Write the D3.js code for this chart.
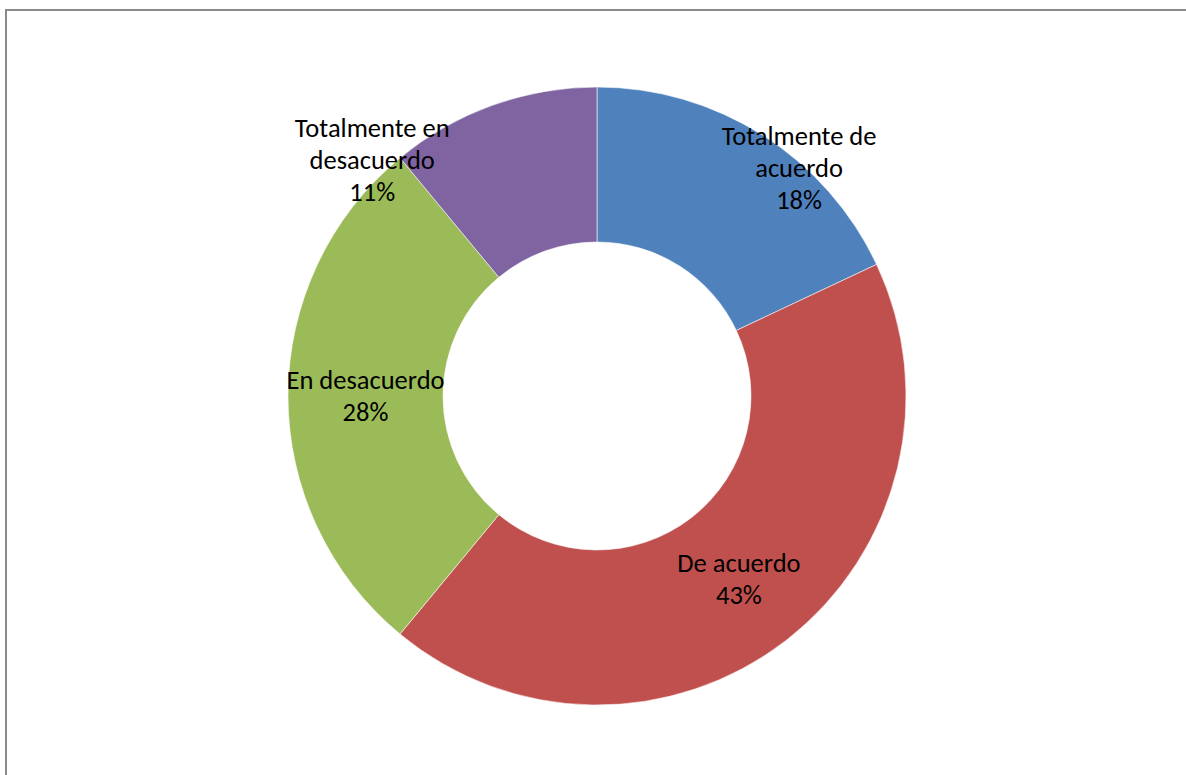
<!DOCTYPE html>
<html>
<head>
<meta charset="utf-8">
<script src="https://cdn.jsdelivr.net/npm/d3@7"></script>
<style>
  html, body { margin: 0; padding: 0; background: #fff; }
  svg { display: block; }
</style>
</head>
<body>
<svg id="chart" width="1186" height="775"></svg>
<script>
// Survey responses (share of answers, %)
const categories = ["Totalmente de acuerdo", "De acuerdo", "En desacuerdo", "Totalmente en desacuerdo"];
const values = [18, 43, 28, 11];
const labelLines = [
  ["Totalmente de", "acuerdo", "18%"],
  ["De acuerdo", "43%"],
  ["En desacuerdo", "28%"],
  ["Totalmente en", "desacuerdo", "11%"]
];
const colors = ["#4F81BD", "#C0504D", "#9BBB59", "#8064A2"];

const W = 1186, H = 775;
const cx = 597, cy = 396;
const outerR = 309, innerR = 154;

const svg = d3.select("#chart");

// chart frame
svg.append("rect")
  .attr("x", 6).attr("y", 10)
  .attr("width", W + 20).attr("height", H + 20)
  .attr("fill", "none")
  .attr("stroke", "#8a8a8a")
  .attr("stroke-width", 2);

const data = categories.map((c, i) => ({ name: c, value: values[i], lines: labelLines[i], color: colors[i] }));

const pie = d3.pie().value(d => d.value).sort(null);
const arc = d3.arc().innerRadius(innerR).outerRadius(outerR);

const g = svg.append("g").attr("transform", `translate(${cx},${cy})`);

const arcs = pie(data);

g.selectAll("path.slice")
  .data(arcs)
  .join("path")
  .attr("class", "slice")
  .attr("d", arc)
  .attr("fill", d => d.data.color)
  .attr("stroke", "rgba(255,255,255,0.55)")
  .attr("stroke-width", 1);

// The two small slices carry their labels further out along the ring
const labelArcs = [
  d3.arc().innerRadius(305).outerRadius(305),
  arc,
  arc,
  d3.arc().innerRadius(326).outerRadius(326)
];
const labelAngleShift = [9.1, 0, 0, -23.8]; // degrees

const lineH = 32;
const labels = g.selectAll("text.lbl")
  .data(arcs)
  .join("text")
  .attr("class", "lbl")
  .attr("text-anchor", "middle")
  .attr("font-family", "Carlito, Lato, 'Open Sans', sans-serif")
  .attr("font-size", 26.5)
  .attr("fill", "#000")
  .attr("transform", (d, i) => {
    const shift = labelAngleShift[i] * Math.PI / 180;
    const mid = (d.startAngle + d.endAngle) / 2 + shift;
    const p = labelArcs[i].centroid({ startAngle: mid, endAngle: mid });
    return `translate(${p[0]},${p[1]})`;
  });

labels.each(function(d) {
  const n = d.data.lines.length;
  d3.select(this).selectAll("tspan")
    .data(d.data.lines)
    .join("tspan")
    .attr("x", 0)
    .attr("y", (t, j) => (j - (n - 1) / 2) * lineH)
    .attr("dy", "0.35em")
    .text(t => t);
});
</script>
</body>
</html>
